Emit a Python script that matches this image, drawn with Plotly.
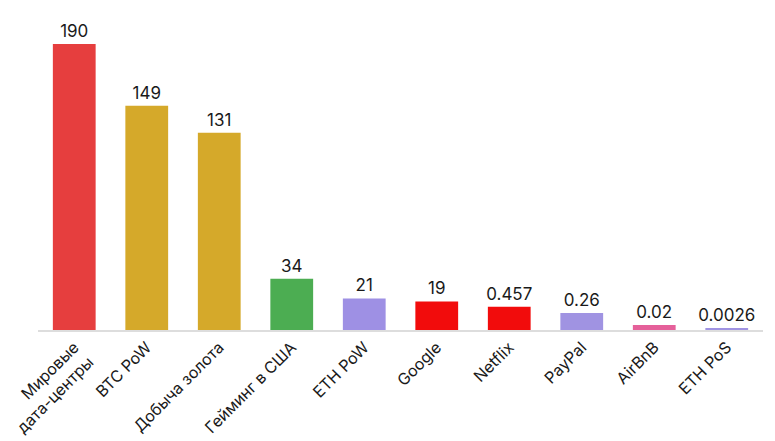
import plotly.graph_objects as go

categories = ["Мировые<br>дата-центры", "BTC PoW", "Добыча золота", "Гейминг в США",
              "ETH PoW", "Google", "Netflix", "PayPal", "AirBnB", "ETH PoS"]
value_labels = ["190", "149", "131", "34", "21", "19", "0.457", "0.26", "0.02", "0.0026"]
# bar heights as drawn in the picture (small values are not to scale in the original)
bar_heights = [190, 149, 131, 34, 21, 19, 15.5, 11.3, 3.3, 0.9]
colors = ["#E63E3E", "#D5A92A", "#D5A92A", "#4CAD52", "#9E90E4",
          "#F20C0C", "#F20C0C", "#A093E2", "#E5609A", "#A093E2"]

fig = go.Figure(go.Bar(
    x=list(range(len(categories))),
    y=bar_heights,
    marker=dict(color=colors, line=dict(width=0)),
    text=value_labels,
    textposition="outside",
    constraintext="none",
    textfont=dict(size=17, color="#1a1a1a", family="Inter, Roboto, sans-serif"),
    cliponaxis=False,
))

fig.update_layout(
    width=775, height=441,
    margin=dict(l=38, r=12, t=10, b=111, autoexpand=False),
    paper_bgcolor="white", plot_bgcolor="white",
    bargap=0.41,
    showlegend=False,
    font=dict(family="Inter, Roboto, sans-serif", color="#1a1a1a"),
    xaxis=dict(
        tickmode="array", tickvals=list(range(len(categories))), ticktext=categories,
        range=[-0.5, 9.5], tickangle=-45, showline=True, linecolor="#dddddd",
        linewidth=1.5, showgrid=False, zeroline=False, ticks="", automargin=False,
        ticklabeloverflow="allow",
        tickfont=dict(size=16, color="#1a1a1a"),
    ),
    yaxis=dict(range=[0, 212.6], visible=False, showgrid=False, automargin=False),
)

fig.write_html("out.html")
